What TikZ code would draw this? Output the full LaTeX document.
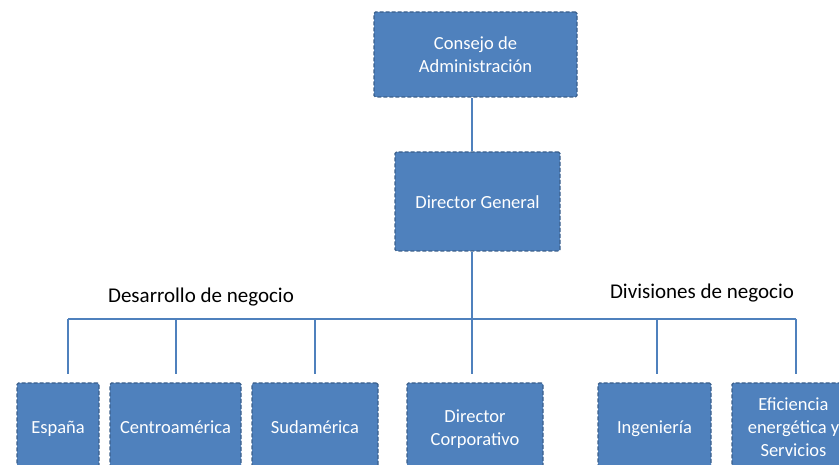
\documentclass[tikz,border=0pt]{standalone}
\usepackage{fontspec}
\setmainfont{Carlito}
\definecolor{boxfill}{HTML}{4F81BD}
\definecolor{boxline}{HTML}{3A5F8B}
\definecolor{conn}{HTML}{4F81BD}
\newcommand\boxstrut{\rule[-4.9pt]{0pt}{23pt}}
\begin{document}
\begin{tikzpicture}[x=1pt,y=-1pt,
  orgbox/.style={draw=boxline, fill=boxfill, line width=1.4pt, dash pattern=on 4pt off 2pt,
    rounded corners=1.5pt, text=white, align=center, inner sep=0pt,
    font=\fontsize{18.5}{23}\selectfont},
  grouplabel/.style={text=black, inner sep=0pt, font=\fontsize{21}{25}\selectfont},
  link/.style={draw=conn, line width=1.5pt}]
\useasboundingbox (0,0) rectangle (839,465);
\clip (0,0) rectangle (839,465);
% top levels
\node[orgbox, minimum width=203pt, minimum height=85pt] (cons) at (475.5,54.5) {\boxstrut Consejo de\\\boxstrut Administración};
\node[orgbox, minimum width=165pt, minimum height=99pt] (dg) at (477.5,201.5) {\boxstrut Director General};
% bottom row
\node[orgbox, minimum width=82pt, minimum height=88pt] (esp) at (58,427) {\boxstrut España};
\node[orgbox, minimum width=131pt, minimum height=88pt] (cen) at (175.5,427) {\boxstrut Centroamérica};
\node[orgbox, minimum width=126pt, minimum height=88pt] (sud) at (315,427) {\boxstrut Sudamérica};
\node[orgbox, minimum width=136pt, minimum height=88pt] (cor) at (475,427) {\boxstrut Director\\\boxstrut Corporativo};
\node[orgbox, minimum width=113pt, minimum height=88pt] (ing) at (654.5,427) {\boxstrut Ingeniería};
\node[orgbox, minimum width=123pt, minimum height=88pt] (efi) at (793.5,427) {\boxstrut Eficiencia\\\boxstrut energética y\\\boxstrut Servicios};
% labels
\node[grouplabel] (lab1) at (201,297) {Desarrollo de negocio};
\node[grouplabel] (lab2) at (702,293) {Divisiones de negocio};
% bus coordinates
\coordinate (trunk) at (472,319);
\coordinate (d1) at (68,319);
\coordinate (d2) at (176,319);
\coordinate (d3) at (315,319);
\coordinate (d4) at (472,319);
\coordinate (d5) at (657,319);
\coordinate (d6) at (796,319);
% connectors
\draw[link] (cons.south -| trunk) -- (dg.north -| trunk);
\draw[link] (dg.south -| trunk) -- (trunk);
\draw[link] (d1) -- (d6);
\foreach \d/\b in {d1/esp,d2/cen,d3/sud,d4/cor,d5/ing,d6/efi}
  \draw[link] (\d) -- ([yshift=8pt]\b.north -| \d);
\end{tikzpicture}
\end{document}
